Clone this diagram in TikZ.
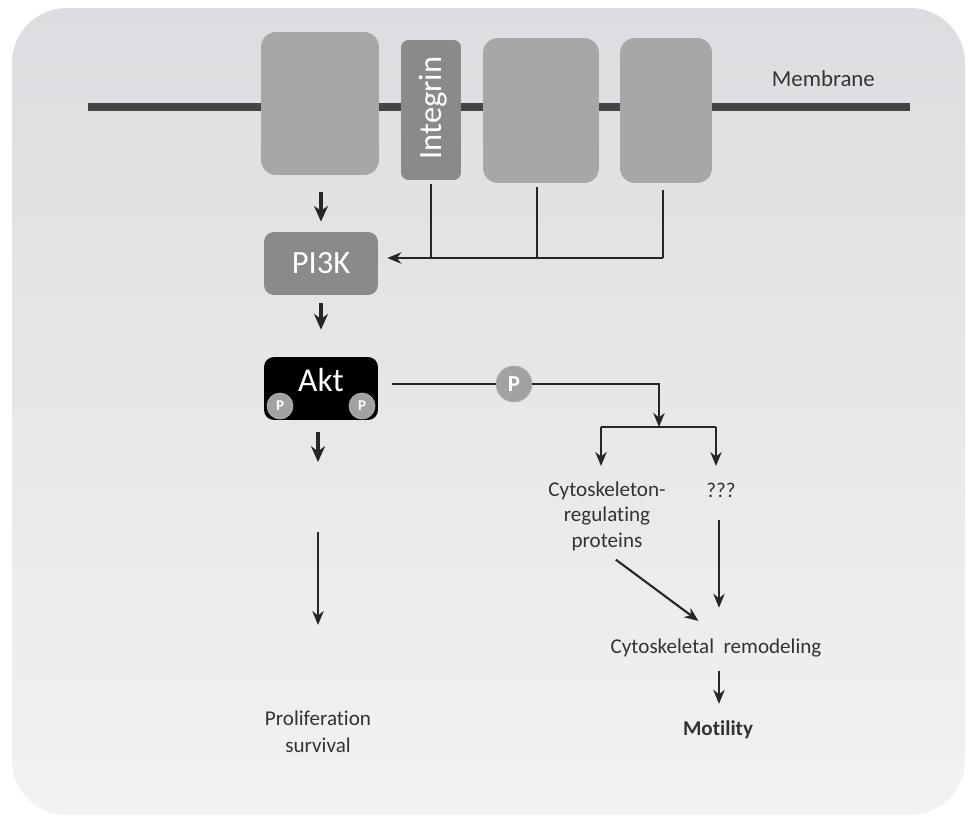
\documentclass[tikz,border=0pt]{standalone}
\usepackage{fontspec}
\setmainfont{Carlito}[Ligatures=NoCommon]
\usetikzlibrary{arrows.meta,positioning}

\definecolor{bgtop}{HTML}{DCDDE0}
\definecolor{bgbot}{HTML}{F2F2F2}
\definecolor{recgray}{HTML}{A7A7A7}
\definecolor{darkgray}{HTML}{8A8A8A}
\definecolor{memgray}{HTML}{454545}
\definecolor{pgray}{HTML}{A2A2A2}
\definecolor{txtgray}{HTML}{333333}

\begin{document}
\begin{tikzpicture}[x=0.02cm,y=-0.02cm,
    recbox/.style={fill=recgray,rounded corners=0.3cm,inner sep=0pt},
    darkbox/.style={fill=darkgray,rounded corners=0.2cm,inner sep=0pt,text=white},
    phos/.style={circle,fill=pgray,draw=gray!60,inner sep=0pt,text=white,font=\bfseries},
    lbl/.style={text=txtgray,font=\fontsize{12}{14.5}\selectfont,align=center,inner sep=1pt},
    sarr/.style={-{Stealth[length=9pt,width=8pt]},line width=1.9pt,black!85},
    larr/.style={-{Stealth[length=8pt,width=6.5pt]},line width=1.2pt,black!85},
    lin/.style={line width=1.5pt,black!85}]
  % page and panel
  \useasboundingbox (0,0) rectangle (971,818);
  \fill[white] (0,0) rectangle (971,818);
  \shade[top color=bgtop,bottom color=bgbot,rounded corners=1.1cm] (12,8) rectangle (965,815);

  % membrane
  \coordinate (memL) at (88,107);
  \coordinate (memR) at (910,107);
  \draw[memgray,line width=4pt] (memL) -- (memR);
  \node[text=black!80,font=\fontsize{13}{14}\selectfont,anchor=south east] (memlbl) at (881,93) {Membrane};

  % receptors
  \node[recbox,minimum width=2.36cm,minimum height=2.86cm] (rec1) at (320,103.5) {};
  \node[darkbox,rounded corners=0.15cm,minimum width=1.2cm,minimum height=2.8cm] (integ) at (431,110) {};
  \node[text=white,rotate=90,font=\fontsize{18.5}{19}\selectfont] (integlbl) at (433,108) {Integrin};
  \node[recbox,minimum width=2.32cm,minimum height=2.9cm] (rec3) at (541,110.5) {};
  \node[recbox,minimum width=1.84cm,minimum height=2.9cm] (rec4) at (666,110.5) {};

  % PI3K and Akt
  \node[darkbox,minimum width=2.28cm,minimum height=1.26cm,font=\fontsize{18.5}{19}\selectfont] (pi3k) at (321,263.5) {PI3K};
  \node[fill=black,rounded corners=0.2cm,minimum width=2.28cm,minimum height=1.26cm,inner sep=0pt] (akt) at (321,388.5) {};
  \node[text=white,font=\fontsize{19}{20}\selectfont] (aktlbl) at (321,380) {Akt};
  \node[phos,minimum size=0.52cm,font=\bfseries\fontsize{8.5}{9}\selectfont] (pl) at (280,406) {P};
  \node[phos,minimum size=0.52cm,font=\bfseries\fontsize{8.5}{9}\selectfont] (pr) at (362,406) {P};

  % receptors to PI3K
  \draw[sarr,shorten <=0.34cm,shorten >=0.2cm] (rec1.south -| pi3k) -- (pi3k.north);
  \coordinate (jn) at (663,258);
  \draw[lin] ([yshift=-2pt]integ.south) -- (integ.south |- jn);
  \draw[lin] ([yshift=-2pt]rec3.south -| 537,0) -- (537,258);
  \draw[lin] ([yshift=-4pt]rec4.south -| jn) -- (jn);
  \draw[larr,shorten >=0.18cm] (jn) -- (jn -| pi3k.east);

  \draw[sarr,shorten <=0.16cm,shorten >=0.54cm] (pi3k.south) -- (akt.north);

  % left branch
  \coordinate (aktout) at (318,462);
  \draw[sarr,shorten <=0.24cm] (akt.south -| aktout) -- (aktout);
  \node[lbl] (prol) at (318,732) {Proliferation\\[1pt]survival};
  \coordinate (prolin) at (318,532);
  \draw[larr,shorten >=1.66cm] (prolin) -- (prol.north |- prolin |- 0,708);

  % right branch
  \node[phos,minimum size=0.72cm,font=\bfseries\fontsize{13}{14}\selectfont] (pa) at (514,384) {P};
  \coordinate (split) at (659,427);
  \draw[lin,shorten <=0.28cm] (akt.east |- pa) -- (pa);
  \draw[larr] (pa) -| (split);
  \coordinate (brL) at (601,427);
  \coordinate (brR) at (716,427);
  \draw[lin] (brL) -- (brR);
  \draw[larr] (brL) -- (601,466);
  \draw[larr] (brR) -- (716,466);

  \node[lbl] (crp) at (607,516) {Cytoskeleton-\\regulating\\proteins};
  \node[lbl] (unk) at (721,490) {???};
  \node[lbl] (remod) at (716,648) {Cytoskeletal\ \ remodeling};
  \node[lbl,font=\bfseries\fontsize{12}{14.5}\selectfont] (mot) at (718,730) {Motility};

  \draw[larr,shorten <=0.42cm,shorten >=0.58cm] (unk.south -| 719,0) -- (remod.north -| 719,0);
  \draw[larr] ([xshift=5pt,yshift=-4pt]crp.south) -- ([xshift=-10pt,yshift=9pt]remod.north);
  \draw[larr,shorten <=0.24cm,shorten >=0.3cm] (remod.south -| 719,0) -- (mot.north -| 719,0);
\end{tikzpicture}
\end{document}
